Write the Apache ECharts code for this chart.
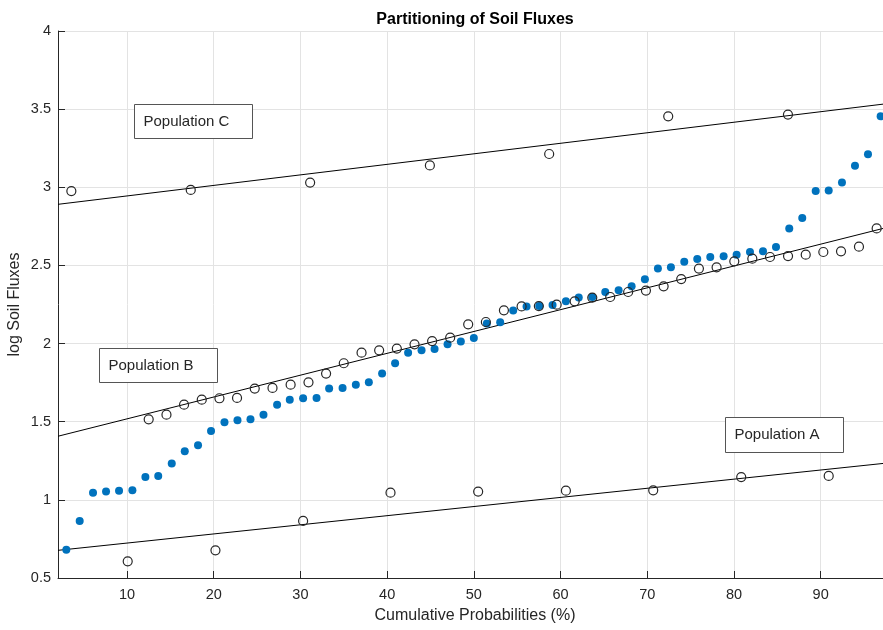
<!DOCTYPE html>
<html>
<head>
<meta charset="utf-8">
<script src="https://cdn.jsdelivr.net/npm/echarts@6/dist/echarts.min.js"></script>
<style>html,body{margin:0;padding:0;background:#fff;}#c{width:883px;height:630px;}</style>
</head>
<body>
<div id="c"></div>
<script>
// All samples (filled blue)
const allX = [3.0,4.54,6.08,7.58,9.08,10.62,12.12,13.6,15.16,16.66,18.19,19.69,21.24,22.74,24.24,25.74,27.31,28.77,30.31,31.86,33.31,34.86,36.39,37.89,39.42,40.92,42.42,43.97,45.47,46.97,48.5,50.0,51.5,53.04,54.54,56.08,57.54,59.08,60.62,62.1,63.66,65.16,66.7,68.2,69.73,71.23,72.73,74.27,75.77,77.27,78.81,80.31,81.85,83.35,84.85,86.38,87.88,89.43,90.93,92.46,93.96,95.46,96.92];
const allY = [0.68,0.865,1.046,1.053,1.059,1.061,1.146,1.153,1.232,1.311,1.349,1.44,1.496,1.509,1.515,1.545,1.609,1.641,1.65,1.652,1.712,1.716,1.737,1.752,1.808,1.874,1.942,1.957,1.965,1.995,2.014,2.036,2.128,2.136,2.211,2.238,2.24,2.247,2.27,2.294,2.298,2.33,2.341,2.366,2.411,2.48,2.488,2.524,2.541,2.554,2.558,2.569,2.586,2.59,2.618,2.737,2.803,2.976,2.98,3.03,3.138,3.211,3.454];
// Population A (open)
const popAX = [10.08,20.2,30.31,40.39,50.5,60.62,70.69,80.84,90.93];
const popAY = [0.607,0.677,0.865,1.046,1.053,1.059,1.061,1.146,1.153];
// Population B (open)
const popBX = [12.5,14.55,16.58,18.62,20.66,22.69,24.73,26.78,28.87,30.93,32.96,35.0,37.05,39.08,41.12,43.16,45.19,47.27,49.35,51.39,53.47,55.51,57.5,59.55,61.63,63.66,65.73,67.8,69.85,71.89,73.92,75.96,78.0,80.04,82.12,84.16,86.24,88.28,90.31,92.35,94.42,96.46];
const popBY = [1.515,1.545,1.609,1.641,1.65,1.652,1.712,1.716,1.737,1.752,1.808,1.874,1.942,1.957,1.968,1.995,2.016,2.038,2.123,2.138,2.213,2.238,2.24,2.249,2.27,2.294,2.298,2.33,2.339,2.366,2.413,2.48,2.488,2.526,2.543,2.554,2.56,2.569,2.586,2.59,2.62,2.737];
// Population C (open)
const popCX = [3.58,17.35,31.12,44.93,58.69,72.42,86.23];
const popCY = [2.976,2.983,3.03,3.14,3.213,3.454,3.465];
// Fit lines
const fitX = [2.04,98.23];
const fitA = [0.677,1.239];
const fitB = [1.407,2.751];
const fitC = [2.891,3.539];
// Ticks
const xTicks = [10,20,30,40,50,60,70,80,90];
const xMin = 2.04, xMax = 98.23;

const zip = (a,b) => a.map((v,i)=>[v,b[i]]);
const FONT = '"Liberation Sans", Arial, sans-serif';
const TXT = '#262626';

const chart = echarts.init(document.getElementById('c'), null, {renderer:'canvas'});

function box(x,y,w,h,label){
  return {type:'group', left:x, top:y, z:100, children:[
    {type:'rect', z:100, shape:{x:0,y:0,width:w,height:h}, style:{fill:'#fff', stroke:'#555', lineWidth:1}},
    {type:'text', z:101, x:9, y:h/2, style:{text:label, font:'15px '+FONT, fill:TXT, verticalAlign:'middle'}}
  ]};
}

const openStyle = {color:'rgba(0,0,0,0)', borderColor:'#262626', borderWidth:1.2, opacity:1};

chart.setOption({
  animation:false,
  backgroundColor:'#fff',
  title:{text:'Partitioning of Soil Fluxes', left:470, top:7, textAlign:'center',
    textStyle:{fontFamily:FONT, fontSize:16, fontWeight:'bold', color:'#000'}},
  grid:{left:58, right:-9, top:31, bottom:52, containLabel:false, outerBoundsMode:'none'},
  xAxis:{type:'value', min:xMin, max:xMax,
    name:'Cumulative Probabilities (%)', nameLocation:'middle', nameGap:30, nameMoveOverlap:false,
    nameTextStyle:{fontFamily:FONT, fontSize:16, color:TXT},
    axisLine:{show:true, onZero:false, lineStyle:{color:TXT, width:1}},
    axisTick:{show:true, inside:true, length:7, customValues:xTicks, lineStyle:{color:TXT}},
    axisLabel:{customValues:xTicks, fontFamily:FONT, fontSize:14.5, color:TXT, margin:9},
    splitLine:{show:true, lineStyle:{color:'#e3e3e3', width:1}}},
  yAxis:{type:'value', min:0.5, max:4, interval:0.5,
    name:'log Soil Fluxes', nameLocation:'middle', nameGap:35, nameMoveOverlap:false,
    nameTextStyle:{fontFamily:FONT, fontSize:16, color:TXT},
    axisLine:{show:true, onZero:false, lineStyle:{color:TXT, width:1}},
    axisTick:{show:true, inside:true, length:7, lineStyle:{color:TXT}},
    axisLabel:{fontFamily:FONT, fontSize:14.5, color:TXT, margin:7},
    splitLine:{show:true, lineStyle:{color:'#e3e3e3', width:1}}},
  series:[
    {type:'line', data:zip(fitX,fitA), symbol:'none', lineStyle:{color:'#000', width:1}, z:3},
    {type:'line', data:zip(fitX,fitB), symbol:'none', lineStyle:{color:'#000', width:1}, z:3},
    {type:'line', data:zip(fitX,fitC), symbol:'none', lineStyle:{color:'#000', width:1}, z:3},
    {type:'scatter', data:zip(allX,allY), symbol:'circle', symbolSize:8, itemStyle:{color:'#0072BD', opacity:1}, z:4},
    {type:'scatter', data:zip(popAX,popAY), symbol:'circle', symbolSize:9, itemStyle:openStyle, z:5},
    {type:'scatter', data:zip(popBX,popBY), symbol:'circle', symbolSize:9, itemStyle:openStyle, z:5},
    {type:'scatter', data:zip(popCX,popCY), symbol:'circle', symbolSize:9, itemStyle:openStyle, z:5}
  ],
  graphic:[
    box(134,104,118,34,'Population C'),
    box(99,348,118,34,'Population B'),
    box(725,417,118,35,'Population A')
  ]
});
</script>
</body>
</html>
